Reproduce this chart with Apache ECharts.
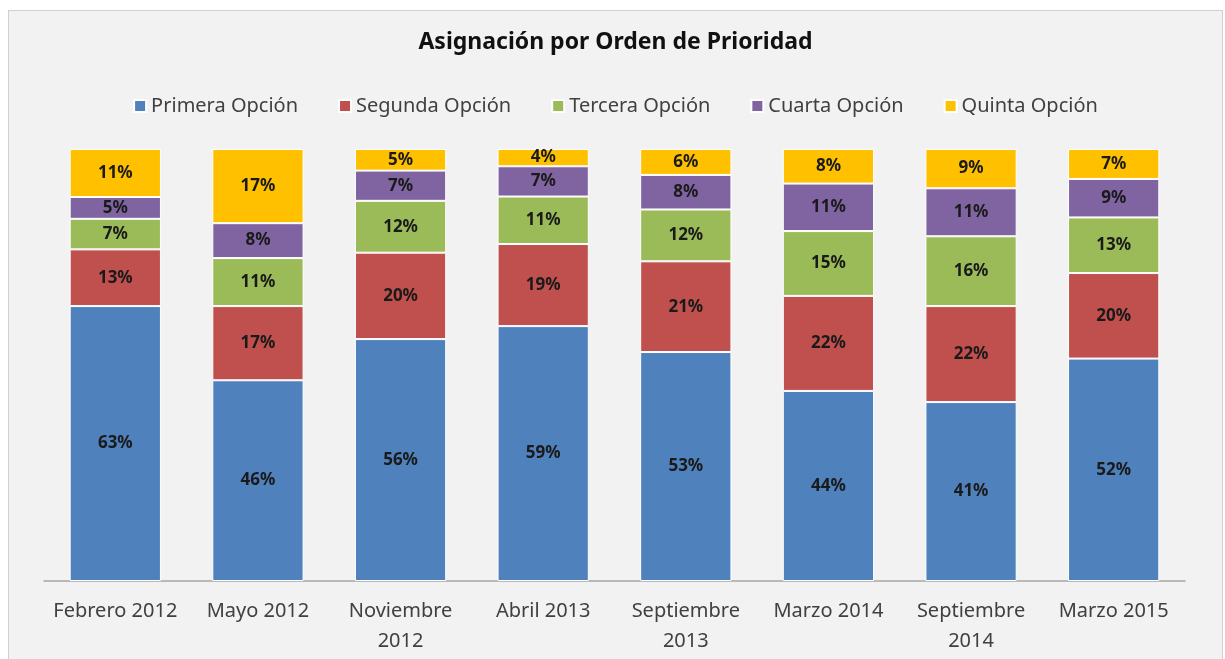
<!DOCTYPE html>
<html>
<head>
<meta charset="utf-8">
<script src="https://cdn.jsdelivr.net/npm/echarts@6/dist/echarts.min.js"></script>
<style>
  html, body { margin: 0; padding: 0; background: #fff; }
  #chart {
    position: absolute; left: 8px; top: 10px;
    width: 1213px; height: 648px;
    border: 1px solid #d0d0d0;
  }
</style>
</head>
<body>
<div id="chart"></div>
<script>
// periodos
const categories = [
  "Febrero 2012", "Mayo 2012", "Noviembre\n2012", "Abril 2013",
  "Septiembre\n2013", "Marzo 2014", "Septiembre\n2014", "Marzo 2015"
];
const seriesNames = ["Primera Opción", "Segunda Opción", "Tercera Opción", "Cuarta Opción", "Quinta Opción"];
const colors = ["#4F81BD", "#C0504D", "#9BBB59", "#8064A2", "#FFC000"];

// porcentajes tal como aparecen en las etiquetas
const primera = [63, 46, 56, 59, 53, 44, 41, 52];
const segunda = [13, 17, 20, 19, 21, 22, 22, 20];
const tercera = [7, 11, 12, 11, 12, 15, 16, 13];
const cuarta  = [5, 8, 7, 7, 8, 11, 11, 9];
const quinta  = [11, 17, 5, 4, 6, 8, 9, 7];

const allData = [primera, segunda, tercera, cuarta, quinta];
// barras al 100%: cada columna se normaliza por su total
const totals = categories.map((c, i) => allData.reduce((s, arr) => s + arr[i], 0));

const chart = echarts.init(document.getElementById("chart"));

const series = allData.map((arr, k) => ({
  name: seriesNames[k],
  type: "bar",
  stack: "total",
  barWidth: "64%",
  data: arr.map((v, i) => v / totals[i] * 100),
  itemStyle: { color: colors[k], borderColor: "#ffffff", borderWidth: 1 },
  label: {
    show: true,
    position: "inside",
    color: "#1a1a1a",
    fontWeight: "bold",
    fontSize: 17,
    fontFamily: "Noto Sans",
    formatter: p => arr[p.dataIndex] + "%"
  }
}));

chart.setOption({
  backgroundColor: "#f2f2f2",
  title: {
    text: "Asignación por Orden de Prioridad",
    left: "center",
    top: 15,
    textStyle: { fontSize: 23, fontWeight: "bold", color: "#111", fontFamily: "Noto Sans" }
  },
  legend: {
    top: 80,
    left: "center",
    itemWidth: 12,
    itemHeight: 12,
    itemGap: 40,
    icon: "rect",
    textStyle: { fontSize: 20, color: "#404040", fontFamily: "Noto Sans" },
    data: seriesNames
  },
  grid: { left: 35, right: 37, top: 138, bottom: 78 },
  xAxis: {
    type: "category",
    data: categories,
    axisTick: { show: false },
    axisLine: { lineStyle: { color: "#a6a6a6", width: 1.5 } },
    axisLabel: {
      interval: 0,
      margin: 15,
      fontSize: 20,
      lineHeight: 30,
      color: "#404040",
      fontFamily: "Noto Sans"
    }
  },
  yAxis: {
    type: "value",
    min: 0,
    max: 100,
    show: false
  },
  series: series
});
</script>
</body>
</html>
